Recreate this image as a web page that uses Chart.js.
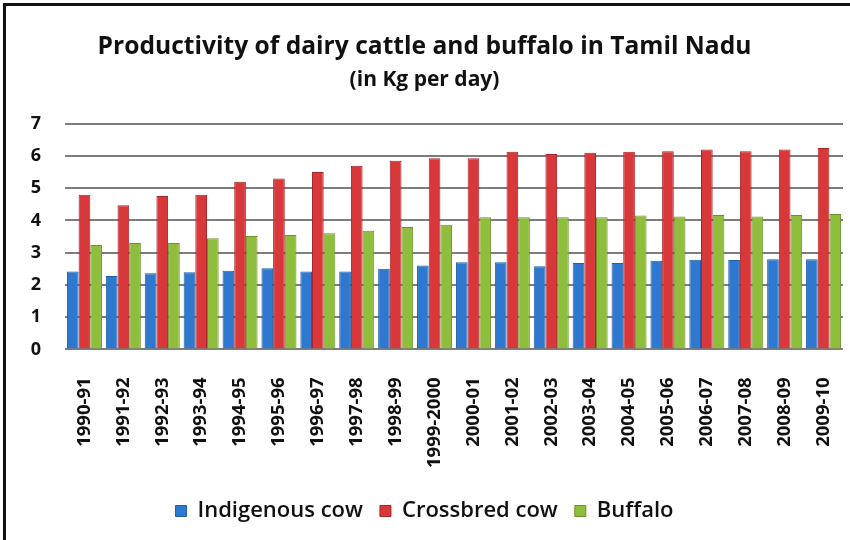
<!DOCTYPE html>
<html>
<head>
<meta charset="utf-8">
<script src="https://cdn.jsdelivr.net/npm/chart.js@4/dist/chart.umd.min.js"></script>
<style>
  html, body { margin: 0; padding: 0; background: #fff; }
  #wrap {
    position: relative;
    box-sizing: border-box;
    border-left: 3px solid #111;
    border-top: 3px solid #111;
    margin-left: 3px; margin-top: 3px;
    width: 847px; height: 537px;
  }
</style>
</head>
<body>
<div id="wrap"><canvas id="chart" width="844" height="534"></canvas></div>
<script>
// Data
const years = ['1990-91', '1991-92', '1992-93', '1993-94', '1994-95', '1995-96', '1996-97',
    '1997-98', '1998-99', '1999-2000', '2000-01', '2001-02', '2002-03', '2003-04', '2004-05',
    '2005-06', '2006-07', '2007-08', '2008-09', '2009-10'];
const indigenousCow = [2.42, 2.28, 2.36, 2.39, 2.44, 2.52, 2.42, 2.42, 2.5, 2.6,
    2.7, 2.7, 2.58, 2.68, 2.68, 2.75, 2.78, 2.77, 2.8, 2.8];
const crossbredCow = [4.8, 4.47, 4.76, 4.8, 5.2, 5.3, 5.5, 5.7, 5.85, 5.93,
    5.93, 6.13, 6.06, 6.1, 6.13, 6.15, 6.2, 6.15, 6.2, 6.25];
const buffalo = [3.24, 3.3, 3.3, 3.45, 3.52, 3.55, 3.6, 3.68, 3.8, 3.87,
    4.1, 4.1, 4.1, 4.1, 4.15, 4.12, 4.17, 4.12, 4.17, 4.2];
const yTicks = [0, 1, 2, 3, 4, 5, 6, 7];

const FONT = '"Open Sans", Lato, sans-serif';

new Chart(document.getElementById('chart'), {
    type: 'bar',
    data: {
        labels: years,
        datasets: [
            { label: 'Indigenous cow', data: indigenousCow, backgroundColor: '#2f78cf', borderColor: '#1f5ea8', borderWidth: 1 },
            { label: 'Crossbred cow', data: crossbredCow, backgroundColor: '#d8383a', borderColor: '#a82328', borderWidth: 1 },
            { label: 'Buffalo', data: buffalo, backgroundColor: '#8fbd3c', borderColor: '#6a922a', borderWidth: 1 }
        ]
    },
    options: {
        responsive: false,
        animation: false,
        layout: { padding: { left: 0, right: 7, top: 26, bottom: 8 } },
        datasets: { bar: { categoryPercentage: 0.9, barPercentage: 1.0 } },
        plugins: {
            title: {
                display: true,
                text: 'Productivity of dairy cattle and buffalo in Tamil Nadu',
                color: '#111',
                font: { family: FONT, size: 24.6, weight: 'bold' },
                padding: { top: 0, bottom: 6 }
            },
            subtitle: {
                display: true,
                text: '(in Kg per day)',
                color: '#111',
                font: { family: FONT, size: 21, weight: 'bold' },
                padding: { top: 0, bottom: 31 }
            },
            legend: {
                position: 'bottom',
                labels: {
                    color: '#111',
                    boxWidth: 11, boxHeight: 11,
                    padding: 17,
                    font: { family: FONT, size: 22, weight: '600' }
                }
            },
            tooltip: { enabled: false }
        },
        scales: {
            x: {
                grid: { display: false },
                border: { display: false },
                afterFit: axis => {
                    axis.height -= 5;
                    axis.paddingLeft = 0;
                    axis.paddingRight = 0;
                },
                ticks: {
                    minRotation: 90, maxRotation: 90,
                    color: '#111',
                    padding: 20,
                    font: { family: FONT, size: 18.5, weight: 'bold' }
                }
            },
            y: {
                min: 0, max: 7,
                afterBuildTicks: axis => { axis.ticks = yTicks.map(v => ({ value: v })); },
                afterFit: axis => { axis.width = 59; },
                grid: { color: '#7d7d7d', lineWidth: 2, drawTicks: false },
                border: { display: false },
                ticks: {
                    color: '#111',
                    padding: 24,
                    font: { family: FONT, size: 18, weight: 'bold' }
                }
            }
        }
    }
});
</script>
</body>
</html>
